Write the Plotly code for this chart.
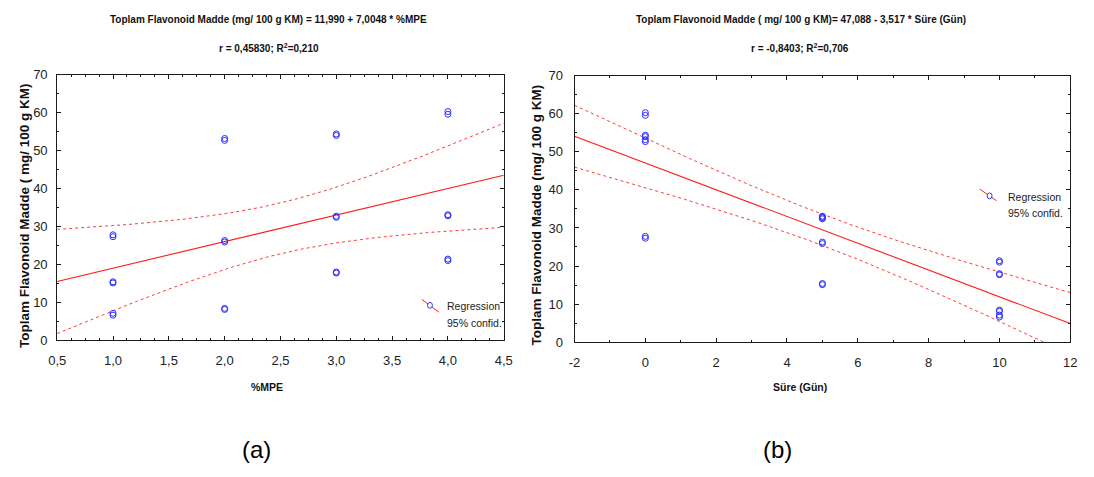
import numpy as np
import plotly.graph_objects as go

# ---- data: total flavonoid content (mg/100 g KM), two replicates per cell ----
mpe_pct = [1, 1, 1, 1, 1, 1,
           2, 2, 2, 2, 2, 2,
           3, 3, 3, 3, 3, 3,
           4, 4, 4, 4, 4, 4]
days = [0, 0, 5, 5, 10, 10] * 4
flavonoid = [27.3, 27.8, 15.1, 15.4, 6.6, 7.1,
             52.7, 53.2, 25.9, 26.3, 8.1, 8.4,
             54.0, 54.4, 32.4, 32.7, 17.7, 18.0,
             59.6, 60.3, 32.8, 33.1, 21.0, 21.4]

# regression coefficients as printed in the panel titles
mpe_intercept, mpe_slope = 11.990, 7.0048
day_intercept, day_slope = 47.088, -3.517
t_crit = 2.074  # Student t, 95 %, df = 22

# axis tick values / labels
mpe_ticks = [0.5, 1.0, 1.5, 2.0, 2.5, 3.0, 3.5, 4.0, 4.5]
day_ticks = [-2, 0, 2, 4, 6, 8, 10, 12]
day_ticktext = ["-2", "0", "2", "4", "6", "8", "10", "12"]
y_ticks = [0, 10, 20, 30, 40, 50, 60, 70]

W, H = 1094, 477
SANS = "Liberation Sans, Arial, sans-serif"
RED = "#ff1a1a"
BLUE = "#2e2eff"


def px_x(x):
    return x / W


def px_y(y):
    return 1 - y / H


def fit_band(x, y, a, b, xgrid):
    x = np.asarray(x, float)
    y = np.asarray(y, float)
    n = len(x)
    resid = y - (a + b * x)
    s = np.sqrt((resid ** 2).sum() / (n - 2))
    sxx = ((x - x.mean()) ** 2).sum()
    half = t_crit * s * np.sqrt(1 / n + (xgrid - x.mean()) ** 2 / sxx)
    fit = a + b * xgrid
    return fit, fit - half, fit + half


fig = go.Figure()

panels = [
    dict(x=mpe_pct, a=mpe_intercept, b=mpe_slope, lo=0.5, hi=4.5, xa="x", ya="y"),
    dict(x=days, a=day_intercept, b=day_slope, lo=-2, hi=12, xa="x2", ya="y2"),
]
for p in panels:
    grid = np.linspace(p["lo"], p["hi"], 200)
    fit, lower, upper = fit_band(p["x"], flavonoid, p["a"], p["b"], grid)
    for band in (lower, upper):
        fig.add_trace(go.Scatter(x=grid, y=band, mode="lines", xaxis=p["xa"], yaxis=p["ya"],
                                 line=dict(color=RED, width=1, dash="dot"),
                                 opacity=0.85, showlegend=False, hoverinfo="skip"))
    fig.add_trace(go.Scatter(x=grid, y=fit, mode="lines", xaxis=p["xa"], yaxis=p["ya"],
                             line=dict(color=RED, width=1.1), showlegend=False))
    fig.add_trace(go.Scatter(x=p["x"], y=flavonoid, mode="markers", xaxis=p["xa"], yaxis=p["ya"],
                             marker=dict(symbol="circle-open", size=6, color=BLUE,
                                         line=dict(width=1, color=BLUE)),
                             showlegend=False, cliponaxis=False))

axis_common = dict(showline=True, linecolor="#1a1a1a", linewidth=1, mirror="allticks",
                   ticks="inside", ticklen=4, tickcolor="#1a1a1a", showgrid=False,
                   zeroline=False, tickfont=dict(family=SANS, size=13, color="#222"))

fig.update_layout(
    width=W, height=H, autosize=False,
    margin=dict(l=0, r=0, t=0, b=0),
    paper_bgcolor="white", plot_bgcolor="white",
    separators=",.",
    xaxis=dict(domain=[px_x(49), px_x(503)], range=[0.5, 4.5], anchor="y",
               tickvals=mpe_ticks, tickformat=".1f", ticklabelstandoff=8,
               minor=dict(ticks="inside", ticklen=2, dtick=0.125, tickcolor="#1a1a1a"),
               **axis_common),
    yaxis=dict(domain=[px_y(344), px_y(70)], range=[0, 70], anchor="x",
               tickvals=y_ticks, ticklabelstandoff=6,
               minor=dict(ticks="inside", ticklen=2, dtick=5, tickcolor="#1a1a1a"),
               **axis_common),
    xaxis2=dict(domain=[px_x(575), px_x(1079)], range=[-2, 12], anchor="y2",
                tickvals=day_ticks, ticktext=day_ticktext, ticklabelstandoff=8,
                minor=dict(ticks="inside", ticklen=2, dtick=1, tickcolor="#1a1a1a"),
                **axis_common),
    yaxis2=dict(domain=[px_y(346), px_y(71)], range=[0, 70], anchor="x2",
                tickvals=y_ticks, ticklabelstandoff=8,
                minor=dict(ticks="inside", ticklen=2, dtick=5, tickcolor="#1a1a1a"),
                **axis_common),
)


def text(x, y, s, size=12, family=SANS, angle=0, xanchor="center", color="#111"):
    fig.add_annotation(x=px_x(x), y=px_y(y), xref="paper", yref="paper", text=s,
                       showarrow=False, xanchor=xanchor, yanchor="middle", textangle=angle,
                       font=dict(family=family, size=size, color=color))


B = "<b>%s</b>"
# panel titles
text(264, 13, B % "Toplam Flavonoid Madde (mg/ 100 g KM) = 11,990 + 7,0048 * %MPE", size=10)
text(264, 42, B % "r = 0,45830; R<sup>2</sup>=0,210", size=10)
text(805, 13, B % "Toplam Flavonoid Madde ( mg/ 100 g KM)= 47,088 - 3,517 * Süre (Gün)", size=10)
text(804, 42, B % "r = -0,8403; R<sup>2</sup>=0,706", size=10)

# axis titles
text(15, 215, B % "Toplam Flavonoid Madde ( mg/ 100 g KM)", size=13.5, angle=-90)
text(536, 215, B % "Toplam Flavonoid Madde (mg/ 100 g KM)", size=13.5, angle=-90)
text(262, 392, B % "%MPE", size=10.5)
text(804, 392, B % "Süre (Gün)", size=10.5)

# panel letters
text(252, 457, "(a)", size=24, color="#000")
text(781, 457, "(b)", size=24, color="#000")

# legends: red regression stroke with a blue open circle, two text rows
for (cx, cy, x0, y0, x1, y1, tx) in [(428, 308, 420, 302, 437, 315, 443),
                                      (997, 195, 987, 188, 1004, 200, 1014)]:
    fig.add_shape(type="line", xref="paper", yref="paper",
                  x0=px_x(x0), y0=px_y(y0), x1=px_x(x1), y1=px_y(y1),
                  line=dict(color=RED, width=1))
    fig.add_shape(type="circle", xref="paper", yref="paper",
                  x0=px_x(cx - 2.5), x1=px_x(cx + 2.5), y0=px_y(cy - 3), y1=px_y(cy + 3),
                  line=dict(color=BLUE, width=1), fillcolor="white")
    text(tx, cy + 1, "Regression", size=10.5, xanchor="left", color="#222")
    text(tx, cy + 18, "95% confid.", size=10.5, xanchor="left", color="#222")

fig.write_html("out.html")
